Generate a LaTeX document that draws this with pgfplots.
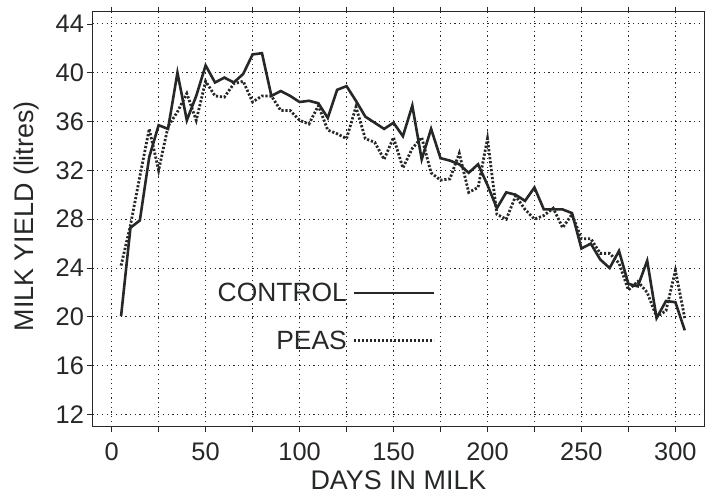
\documentclass[border=0pt]{standalone}
\usepackage{fontspec}
\setmainfont{Liberation Sans}
\usepackage{pgfplots}
\pgfplotsset{compat=1.18}
\definecolor{ink}{RGB}{38,40,40}

\pgfplotstableread{
x y
5 20.05
10 27.3
15 27.9
20 33.1
25 35.7
30 35.4
35 40.0
40 36.1
45 38.1
50 40.6
55 39.2
60 39.6
65 39.2
70 39.9
75 41.5
80 41.6
85 38.1
90 38.5
95 38.1
100 37.6
105 37.7
110 37.5
115 36.3
120 38.6
125 38.9
130 37.7
135 36.4
140 35.9
145 35.4
150 35.9
155 34.8
160 37.3
165 32.9
170 35.4
175 33.0
180 32.8
185 32.5
190 31.8
195 32.5
200 30.8
205 28.9
210 30.2
215 30.0
220 29.5
225 30.6
230 28.8
235 28.8
240 28.8
245 28.5
250 25.6
255 26.0
260 24.7
265 24.0
270 25.4
275 22.7
280 22.5
285 24.6
290 19.9
295 21.3
300 21.2
305 18.9
}\control

\pgfplotstableread{
x y
5 24.2
10 27.5
15 31.5
20 35.4
25 32.0
30 35.6
35 36.8
40 38.3
45 36.1
50 39.3
55 38.1
60 38.0
65 39.1
70 39.3
75 37.6
80 38.1
85 38.1
90 36.9
95 36.9
100 36.1
105 35.8
110 37.3
115 35.3
120 35.0
125 34.6
130 37.2
135 34.6
140 34.3
145 32.9
150 34.7
155 32.2
160 33.8
165 34.7
170 31.8
175 31.2
180 31.3
185 33.4
190 30.2
195 30.6
200 34.6
205 28.4
210 28.0
215 29.9
220 28.8
225 28.0
230 28.3
235 28.9
240 27.3
245 28.4
250 26.4
255 26.4
260 25.2
265 25.2
270 24.4
275 22.2
280 22.9
285 22.0
290 20.0
295 20.5
300 23.8
305 19.9
}\peas

\begin{document}
\begin{tikzpicture}
\path[use as bounding box] (-92.5bp,-68.3bp) rectangle (612.5bp,426.7bp);
\begin{axis}[
  scale only axis,
  width=612bp, height=415bp,
  xmin=-10.2, xmax=315.5,
  ymin=11, ymax=45,
  xtick={0,50,...,300},
  minor xtick={25,75,...,275},
  ytick={12,16,...,44},
  tick align=outside,
  major tick length=5bp,
  minor tick length=5bp,
  tick style={ink, line width=0.8bp},
  axis line style={ink, line width=1.2bp},
  grid=both,
  major grid style={ink, line width=0.9bp, dash pattern=on 1.2bp off 3.5bp},
  minor grid style={ink, line width=0.9bp, dash pattern=on 1.2bp off 3.5bp},
  /pgf/number format/assume math mode=true,
  ticklabel style={font=\fontsize{25.5}{30}\selectfont, text=ink},
  xticklabel style={yshift=-8bp},
  label style={font=\fontsize{27}{32}\selectfont, text=ink},
  xlabel={DAYS IN MILK},
  ylabel={MILK YIELD (litres)},
  xlabel style={at={(axis description cs:0.5,-0.1525)}, anchor=base},
  ylabel style={at={(axis description cs:-0.0964,0.507)}, anchor=base},
  legend plot pos=right,
  legend cell align=right,
  legend image code/.code={\draw[#1] (0bp,0bp) -- (80bp,0bp);},
  legend style={draw=none, fill=none, at={(axis cs:172.5,20.0)}, anchor=east,
    font=\fontsize{26.5}{31}\selectfont, text=ink, row sep=24bp,
    inner sep=0pt, /tikz/every odd column/.append style={column sep=4bp}},
]
\addplot[ink, line width=2.6bp, line join=miter] table {\control};
\addlegendentry{CONTROL}
\addplot[ink, line width=2.8bp, dash pattern=on 2.2bp off 1.8bp] table {\peas};
\addlegendentry{PEAS}
\end{axis}
\end{tikzpicture}
\end{document}
